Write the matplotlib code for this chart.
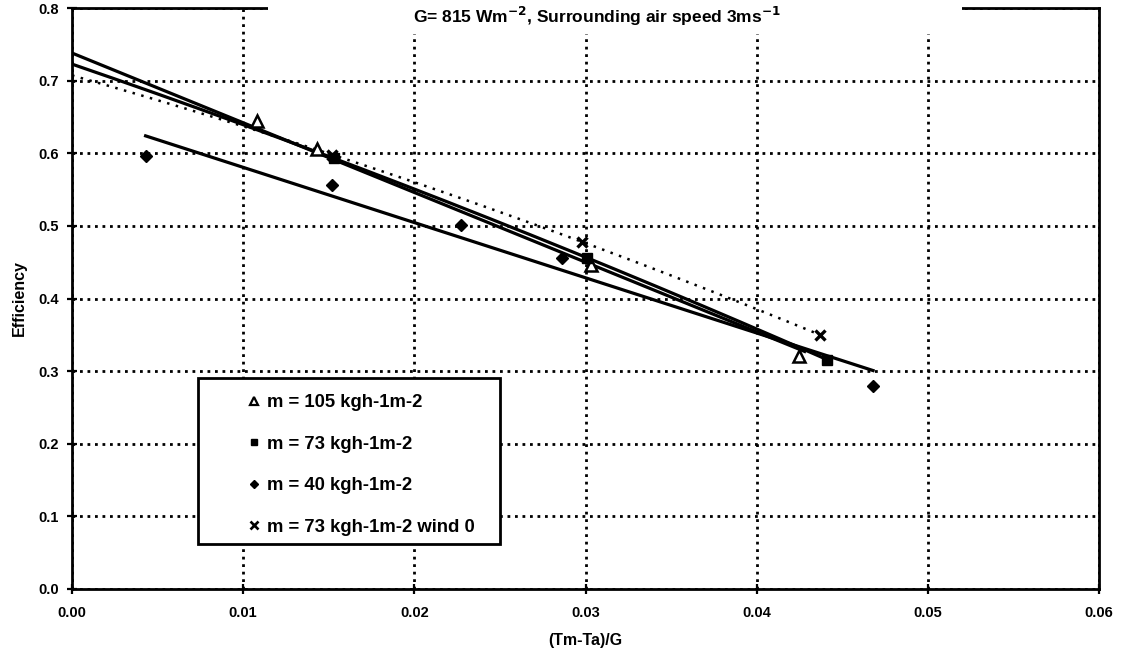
import numpy as np
import matplotlib
matplotlib.use("Agg")
import matplotlib.pyplot as plt
from matplotlib.patches import Rectangle
from matplotlib.lines import Line2D

plt.rcParams['font.family'] = ['Liberation Sans', 'DejaVu Sans']

# ---- data ----
tri_x = [0.0108, 0.0143, 0.0303, 0.0425]
tri_y = [0.644, 0.606, 0.446, 0.321]
sq_x = [0.0153, 0.0301, 0.0441]
sq_y = [0.593, 0.456, 0.316]
dia_x = [0.0043, 0.0152, 0.0227, 0.0286, 0.0468]
dia_y = [0.596, 0.556, 0.501, 0.456, 0.280]
cr_x = [0.0152, 0.0298, 0.0437]
cr_y = [0.598, 0.478, 0.350]

# trendline of the 105 series as drawn in the source (slope, intercept)
tri_fit = [-9.6, 0.738]

labels = ["m = 105 kgh-1m-2", "m = 73 kgh-1m-2", "m = 40 kgh-1m-2",
          "m = 73 kgh-1m-2 wind 0"]
x_ticks = [0.00, 0.01, 0.02, 0.03, 0.04, 0.05, 0.06]
y_ticks = [0.0, 0.1, 0.2, 0.3, 0.4, 0.5, 0.6, 0.7, 0.8]

W, H = 1125, 659
fig = plt.figure(figsize=(W / 100, H / 100), dpi=100)
ax = fig.add_axes([72 / W, 1 - 589 / H, (1099 - 72) / W, (589 - 8) / H])
ax.set_xlim(0, 0.06)
ax.set_ylim(0, 0.8)

# grid
ax.set_xticks(x_ticks)
ax.set_yticks(y_ticks)
ax.set_xticklabels([f"{v:.2f}" for v in x_ticks])
ax.set_yticklabels([f"{v:.1f}" for v in y_ticks])
ax.grid(True, color='black', linestyle=(0, (1.0, 1.7)), linewidth=2.0)
ax.set_axisbelow(True)
for s in ax.spines.values():
    s.set_linewidth(2.0)
    s.set_color('black')
ax.tick_params(direction='inout', length=7, width=1.6, labelsize=10.5, pad=6)
for lab in ax.get_xticklabels() + ax.get_yticklabels():
    lab.set_fontweight('bold')
ax.tick_params(axis='x', pad=9)

# trendlines
def draw_fit(c, x0, x1, **kw):
    xx = np.linspace(x0, x1, 200)
    ax.plot(xx, np.polyval(c, xx), **kw)

draw_fit(tri_fit, 0.0, max(tri_x) + 0.0003, color='black', lw=2.3, zorder=3)
draw_fit(np.polyfit(sq_x, sq_y, 2), 0.0, max(sq_x), color='black', lw=2.3,
         zorder=3)
draw_fit(np.polyfit(dia_x, dia_y, 1), min(dia_x), max(dia_x), color='black',
         lw=2.3, zorder=3)
draw_fit(np.polyfit(cr_x, cr_y, 2), 0.0, max(cr_x), color='black', lw=1.8,
         linestyle=(0, (1.0, 2.6)), zorder=3)

# markers
ax.plot(tri_x, tri_y, linestyle='none', marker='^', ms=8, mfc='white',
        mec='black', mew=1.8, zorder=4)
ax.plot(sq_x, sq_y, linestyle='none', marker='s', ms=6.5, mfc='black',
        mec='black', zorder=4)
ax.plot(dia_x, dia_y, linestyle='none', marker='D', ms=6.5, mfc='black',
        mec='black', zorder=4)
ax.plot(cr_x, cr_y, linestyle='none', marker='x', ms=7, mec='black',
        mew=2.4, zorder=4)

ax.set_xlabel("(Tm-Ta)/G", fontweight='bold', fontsize=11.5, labelpad=9)
ax.set_ylabel("Efficiency", fontweight='bold', fontsize=11.5, labelpad=8)

# legend box
bx0 = (198 - 72) / (1099 - 72)
by0 = (589 - 544) / (589 - 8)
bw = (500 - 198) / (1099 - 72)
bh = (544 - 378) / (589 - 8)
ax.add_patch(Rectangle((bx0, by0), bw, bh, transform=ax.transAxes,
                       facecolor='white', edgecolor='black', lw=2.0,
                       zorder=6))
handles = [
    Line2D([], [], linestyle='none', marker='^', ms=6, mfc='white',
           mec='black', mew=1.6),
    Line2D([], [], linestyle='none', marker='s', ms=5, mfc='black',
           mec='black'),
    Line2D([], [], linestyle='none', marker='D', ms=4.5, mfc='black',
           mec='black'),
    Line2D([], [], linestyle='none', marker='x', ms=5.5, mec='black',
           mew=1.9),
]
leg = ax.legend(handles, labels, loc='upper left',
                bbox_to_anchor=((246 - 72) / (1099 - 72), (589 - 394) / (589 - 8)),
                frameon=False, handlelength=0.9, handletextpad=0.25,
                labelspacing=1.33, borderpad=0, borderaxespad=0,
                prop={'weight': 'bold', 'size': 13.3})
leg.set_zorder(7)

# title with white box that hides part of the top border
fig.patches.append(Rectangle((268 / W, 1 - 34 / H), (962 - 268) / W, 34 / H,
                             transform=fig.transFigure, facecolor='white',
                             edgecolor='none', zorder=5))
fig.text(597 / W, 1 - 23 / H,
         r"G= 815 Wm$^{\mathbf{-2}}$, Surrounding air speed 3ms$^{\mathbf{-1}}$",
         ha='center', va='baseline', fontsize=12.5, fontweight='bold',
         zorder=6)

fig.savefig("out.png", dpi=100)
